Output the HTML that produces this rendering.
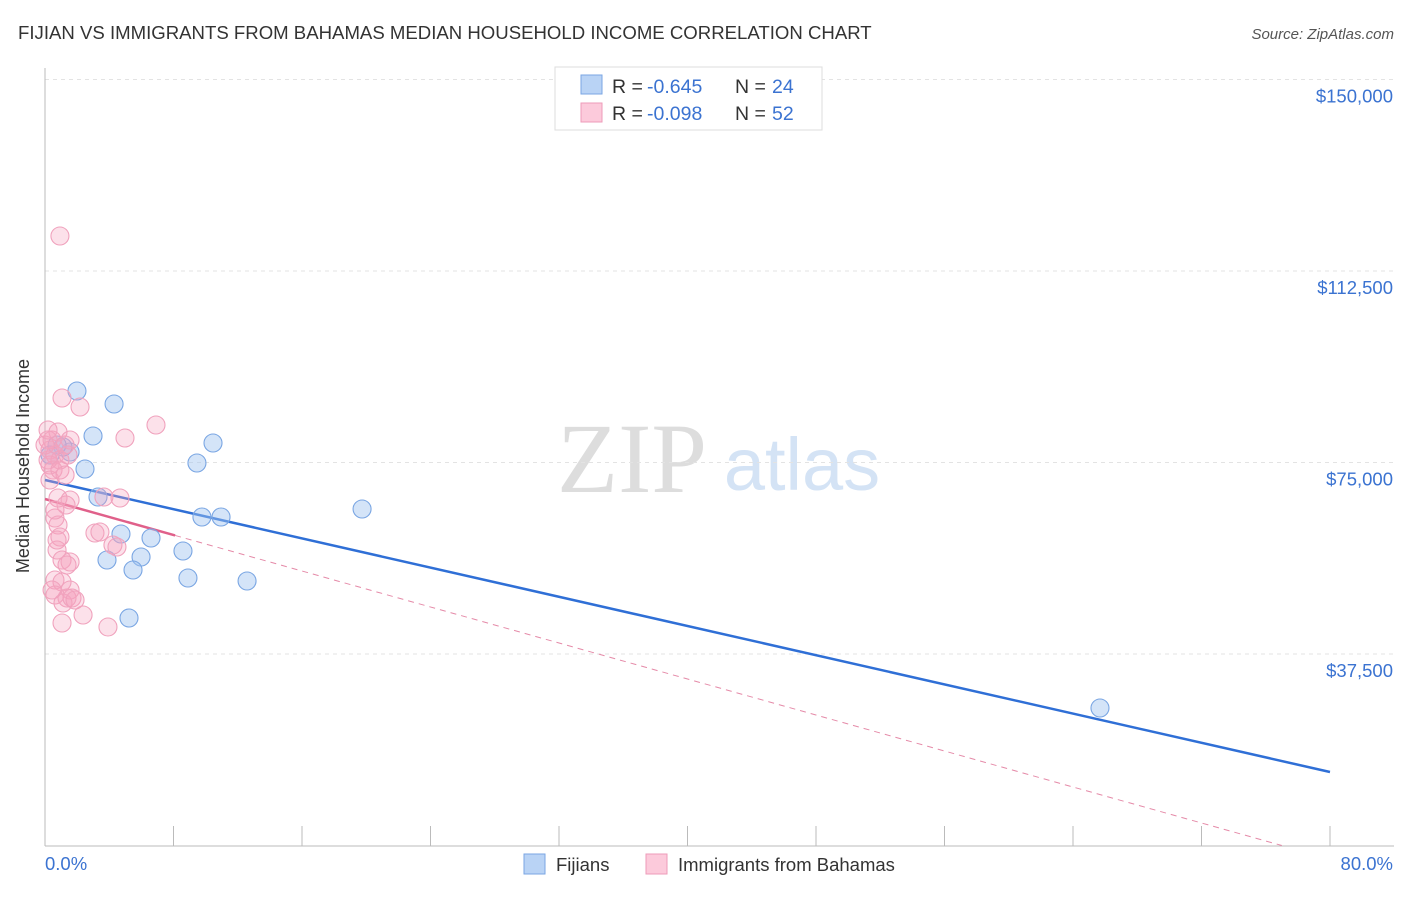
<!DOCTYPE html>
<html><head><meta charset="utf-8"><style>
body{margin:0;background:#fff;font-family:"Liberation Sans",sans-serif}
svg text{font-family:"Liberation Sans",sans-serif}
</style></head><body>
<svg id="chart" width="1406" height="892" xmlns="http://www.w3.org/2000/svg">
<text x="18" y="39" font-size="18.6" fill="#333">FIJIAN VS IMMIGRANTS FROM BAHAMAS MEDIAN HOUSEHOLD INCOME CORRELATION CHART</text>
<text x="1394" y="39" font-size="15" fill="#555" font-style="italic" text-anchor="end">Source: ZipAtlas.com</text>
<g>
<text x="632" y="492" font-size="100" fill="#ddd" text-anchor="middle" style="font-family:'Liberation Serif',serif">ZIP</text>
<text x="802" y="490" font-size="74" fill="#d4e3f5" text-anchor="middle">atlas</text>
</g>
<g id="grid"></g>
<g id="axes"></g>
<g id="lines"></g>
<g id="pts"></g>
<text x="20" y="457" font-size="18" fill="#333" text-anchor="middle" transform="rotate(-90 29 457)">Median Household Income</text>
<g>
<rect x="555" y="67" width="267" height="63" fill="#fff" stroke="#ddd"/>
<rect x="581" y="75" width="21" height="19" fill="#b9d3f5" stroke="#7aa6e3"/>
<rect x="581" y="103" width="21" height="19" fill="#fccadb" stroke="#ee9bb8"/>
<text x="612" y="93" font-size="19.5" fill="#333">R =</text>
<text x="647" y="93" font-size="19.5" fill="#3b73d1">-0.645</text>
<text x="735" y="93" font-size="19.5" fill="#333">N =</text>
<text x="772" y="93" font-size="19.5" fill="#3b73d1">24</text>
<text x="612" y="120" font-size="19.5" fill="#333">R =</text>
<text x="647" y="120" font-size="19.5" fill="#3b73d1">-0.098</text>
<text x="735" y="120" font-size="19.5" fill="#333">N =</text>
<text x="772" y="120" font-size="19.5" fill="#3b73d1">52</text>
</g>
<g>
<rect x="524" y="854" width="21" height="20" fill="#b9d3f5" stroke="#7aa6e3"/>
<text x="556" y="871" font-size="18.5" fill="#333">Fijians</text>
<rect x="646" y="854" width="21" height="20" fill="#fccadb" stroke="#ee9bb8"/>
<text x="678" y="871" font-size="18.5" fill="#333">Immigrants from Bahamas</text>
</g>
</svg>
<script>
const xTicks=[0,8,16,24,32,40,48,56,64,72,80];
const yTicks=[37500,75000,112500,150000];
const yTickLabels=["$37,500","$75,000","$112,500","$150,000"];
const fijiX=[1.99,4.30,2.99,10.46,1.56,1.12,9.46,2.49,3.30,19.74,9.77,10.96,4.73,6.60,8.59,3.86,5.98,5.48,8.90,12.58,5.23,65.68,0.75,0.31];
const fijiY=[89000,86455,80190,78818,77055,78034,74901,73726,68243,65893,64327,64327,60998,60215,57669,55907,56494,53948,52382,51794,44549,26925,78426,76468];
const bahX=[0.93,1.06,2.18,6.91,4.98,0.44,0.81,1.25,0.31,0.62,0.93,0.31,0.50,1.56,4.67,0.81,1.56,3.67,0.62,0.81,3.11,0.93,4.23,4.48,0.75,1.06,1.56,1.37,0.62,1.06,1.56,0.62,1.37,1.12,2.37,1.06,3.92,0.31,0.19,0.19,1.31,0.62,1.68,3.42,0.44,0.93,1.43,0.0,0.19,1.87,0.75,1.25];
const bahY=[119352,87630,85867,82342,79797,79405,80972,78426,77447,76468,75489,74510,73530,79405,68047,68047,67656,68243,64131,62760,61194,60410,58844,58453,57865,55907,55515,54928,51990,51599,50032,49053,48465,47486,45137,43570,42787,71572,79405,75489,66677,65698,48465,61389,50032,73530,76468,78426,81364,48073,59823,72551];
const fijiTrend=[71575,14393];
const bahTrend=[67852,-2644];
const bahSolidEnd=8.1;
const X=v=>45+v/80*1285, Y=v=>845.5-v/37500*191.5;
const NS="http://www.w3.org/2000/svg";
function mk(p,t,a){const e=document.createElementNS(NS,t);for(const k in a)e.setAttribute(k,a[k]);p.appendChild(e);return e;}
const grid=document.getElementById('grid'),axes=document.getElementById('axes'),lines=document.getElementById('lines'),pts=document.getElementById('pts');
yTicks.forEach((v,i)=>{
 const g=mk(grid,'line',{x1:45,x2:1394,y1:Y(v),y2:Y(v),stroke:'#e3e3e3','stroke-dasharray':'4,4'});
 
 
 const t=mk(axes,'text',{x:1393,y:Y(v)+23,'font-size':18.5,fill:'#3b73d1','text-anchor':'end'});
 t.textContent=yTickLabels[i];
 
 
});
const ax=mk(axes,'line',{x1:45,x2:45,y1:68,y2:846,stroke:'#bbb'});


const bx=mk(axes,'line',{x1:45,x2:1394,y1:846,y2:846,stroke:'#bbb'});


xTicks.forEach(v=>{
 const t=mk(axes,'line',{x1:X(v),x2:X(v),y1:826,y2:846,stroke:'#bbb'});
 
 
});
const l0=mk(axes,'text',{x:45,y:870,'font-size':18.5,fill:'#3b73d1'});l0.textContent=xTicks[0].toFixed(1)+'%';


const l1=mk(axes,'text',{x:1393,y:870,'font-size':18.5,fill:'#3b73d1','text-anchor':'end'});l1.textContent=xTicks[10].toFixed(1)+'%';


const bt=(x)=>bahTrend[0]+(bahTrend[1]-bahTrend[0])*x/80;
fijiX.forEach((x,i)=>{
 const c=mk(pts,'circle',{cx:X(x),cy:Y(fijiY[i]),r:9,fill:'rgba(160,195,240,0.45)',stroke:'#7aa6e3','stroke-width':1.1});
 
 
});
bahX.forEach((x,i)=>{
 const c=mk(pts,'circle',{cx:X(x),cy:Y(bahY[i]),r:9,fill:'rgba(245,165,190,0.33)',stroke:'#f0a2bd','stroke-width':1.1});
 
 
});
const f=mk(lines,'line',{x1:X(0),y1:Y(fijiTrend[0]),x2:X(80),y2:Y(fijiTrend[1]),stroke:'#2f6fd6','stroke-width':2.5});


let zx=80; if(bahTrend[1]<0){zx=80*bahTrend[0]/(bahTrend[0]-bahTrend[1]);}
const bd=mk(lines,'line',{x1:X(bahSolidEnd),y1:Y(bt(bahSolidEnd)),x2:X(zx),y2:Y(bt(zx)),stroke:'#e58aa8','stroke-width':1,'stroke-dasharray':'6,5'});


const bs=mk(lines,'line',{x1:X(0),y1:Y(bahTrend[0]),x2:X(bahSolidEnd),y2:Y(bt(bahSolidEnd)),stroke:'#e0608a','stroke-width':2.5});


</script>
</body></html>
